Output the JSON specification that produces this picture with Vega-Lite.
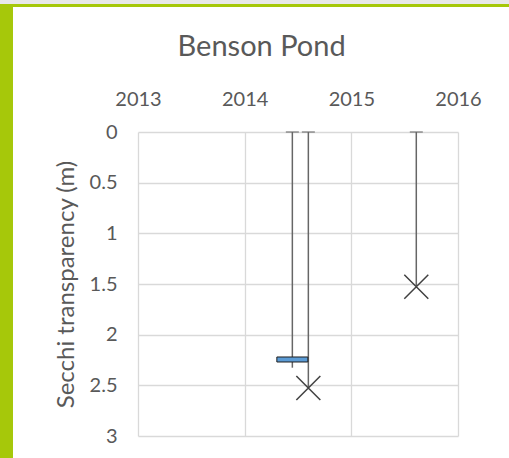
{
  "$schema": "https://vega.github.io/schema/vega-lite/v6.json",
  "padding": 0,
  "background": "white",
  "config": {"view": {"stroke": null}, "font": "Lato"},
  "datasets": {
    "secchi": [
      {"year": 2014.447, "secchi": 2.245, "line_end": 2.326, "marker": "dash"},
      {"year": 2014.597, "secchi": 2.526, "line_end": 2.526, "marker": "x"},
      {"year": 2015.609, "secchi": 1.527, "line_end": 1.527, "marker": "x"}
    ],
    "empty": []
  },
  "spacing": 0,
  "vconcat": [
    {"data": {"name": "empty"}, "width": 509, "height": 4, "view": {"fill": "#e8e8e8", "stroke": null}, "mark": "point", "encoding": {}},
    {"data": {"name": "empty"}, "width": 509, "height": 3, "view": {"fill": "#a6c80a", "stroke": null}, "mark": "point", "encoding": {}},
    {
      "spacing": 41,
      "hconcat": [
        {"data": {"name": "empty"}, "width": 13, "height": 451, "view": {"fill": "#a6c80a", "stroke": null}, "mark": "point", "encoding": {}},
        {
          "spacing": 25,
          "vconcat": [
            {"data": {"name": "empty"}, "width": 320, "height": 1, "view": {"fill": "white", "stroke": null}, "mark": "point", "encoding": {}},
            {
              "data": {"name": "secchi"},
              "width": 320,
              "height": 304,
              "title": {"text": "Benson Pond", "fontSize": 29, "font": "Lato", "fontWeight": "normal", "color": "#595959", "anchor": "middle", "frame": "bounds", "offset": 4, "dx": -6, "baseline": "alphabetic"},
              "encoding": {
                "x": {"field": "year", "type": "quantitative",
                  "scale": {"domain": [2013, 2016], "nice": false, "zero": false},
                  "axis": {"orient": "top", "values": [2013, 2014, 2015, 2016], "format": "d", "grid": true, "gridColor": "#d9d9d9", "gridWidth": 1.3, "domain": false, "ticks": false, "labelFontSize": 20, "labelColor": "#595959", "labelFont": "Lato", "labelPadding": 27, "labelBaseline": "alphabetic", "labelFlush": false, "title": null}}
              },
              "layer": [
                {
                  "mark": {"type": "rule", "color": "#666666", "strokeWidth": 1.5},
                  "encoding": {
                    "y": {"field": "line_end", "type": "quantitative",
                      "scale": {"domain": [0, 3], "reverse": true, "nice": false},
                      "axis": {"values": [0, 0.5, 1, 1.5, 2, 2.5, 3], "format": "~g", "grid": true, "gridColor": "#d9d9d9", "gridWidth": 1.3, "domain": false, "ticks": false, "labelFontSize": 20, "labelColor": "#595959", "labelFont": "Lato", "labelPadding": 21, "title": "Secchi transparency (m)", "titleFontSize": 24, "titleFontWeight": "normal", "titleColor": "#595959", "titleFont": "Lato", "titlePadding": 11}},
                    "y2": {"datum": 0}
                  }
                },
                {
                  "mark": {"type": "tick", "orient": "horizontal", "size": 13, "thickness": 1.5, "color": "#666666"},
                  "encoding": {"y": {"datum": 0, "type": "quantitative"}}
                },
                {
                  "transform": [{"filter": "datum.marker == 'dash'"}],
                  "mark": {"type": "tick", "orient": "horizontal", "size": 31, "thickness": 5, "color": "#5b9bd5", "stroke": "#1f1f1f", "strokeWidth": 1, "opacity": 1},
                  "encoding": {"y": {"field": "secchi", "type": "quantitative"}}
                },
                {
                  "transform": [{"filter": "datum.marker == 'x'"}],
                  "mark": {"type": "point", "shape": "M-1,-1L1,1M-1,1L1,-1", "size": 576, "filled": false, "stroke": "#404040", "strokeWidth": 1.5, "opacity": 1},
                  "encoding": {"y": {"field": "secchi", "type": "quantitative"}}
                }
              ]
            }
          ]
        }
      ]
    }
  ]
}
